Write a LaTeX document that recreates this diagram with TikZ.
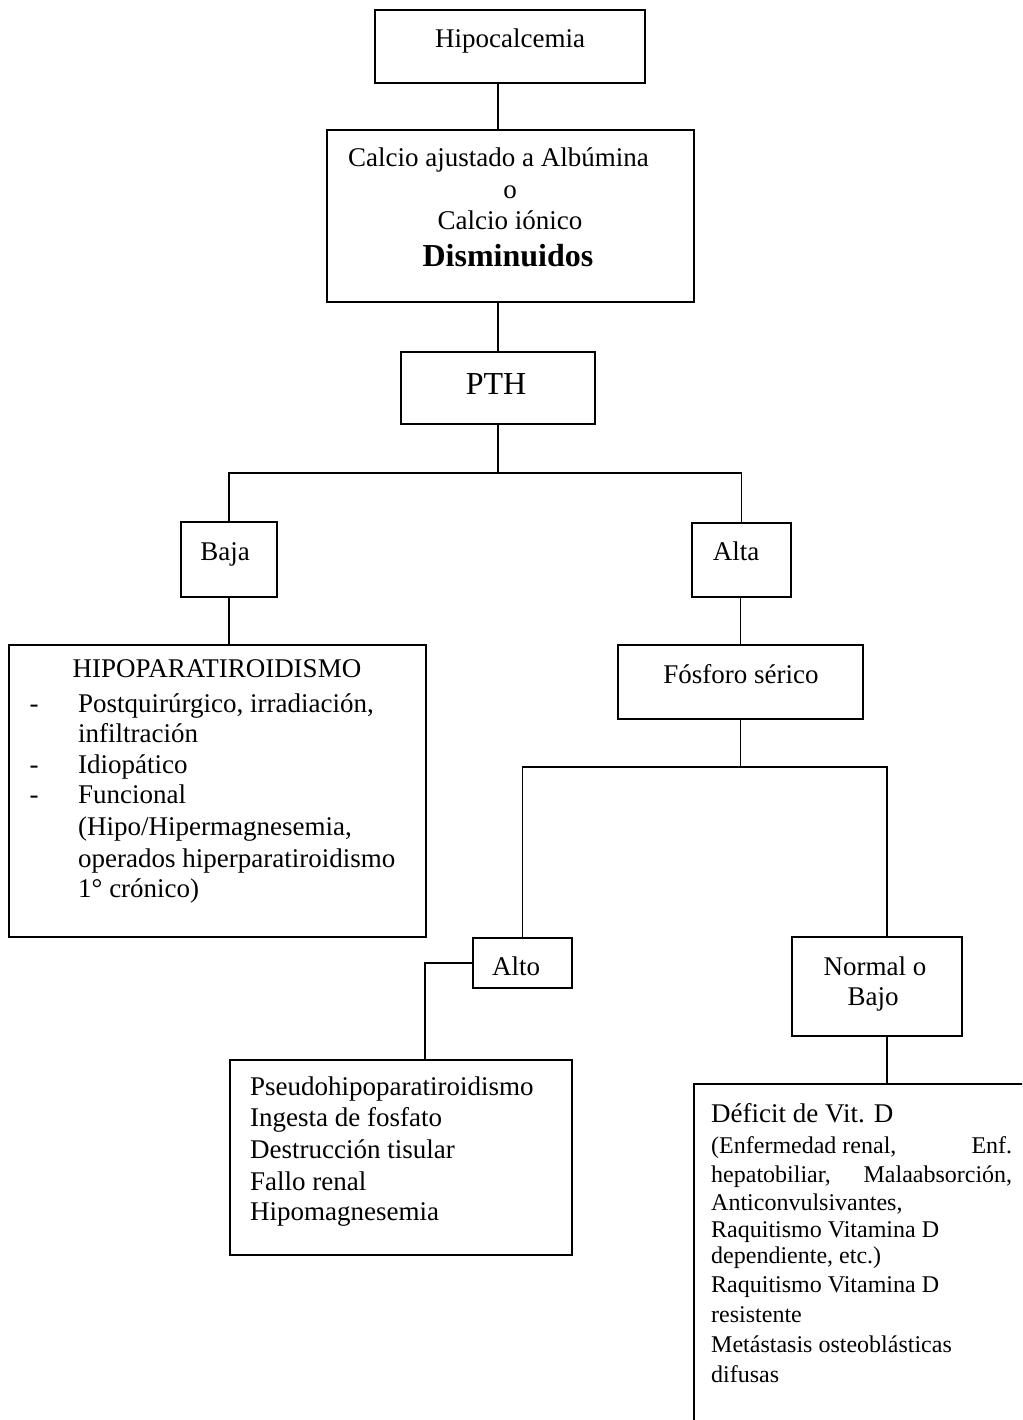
\documentclass[tikz,border=0pt]{standalone}
\usepackage{fontspec}
\setmainfont{Liberation Serif}
\newcommand\fmain{\fontsize{27}{32}\selectfont}
\newcommand\fbig{\fontsize{32}{38}\selectfont}
\newcommand\fsmall{\fontsize{24}{28}\selectfont}
\begin{document}
\begin{tikzpicture}[x=1pt,y=-1pt,
  box/.style={draw, line width=1.6pt, inner sep=0pt},
  txt/.style={anchor=base, inner sep=0pt, font=\fmain},
  txtl/.style={anchor=base west, inner sep=0pt, font=\fmain},
  conn/.style={line width=1.6pt}]
\useasboundingbox (0,0) rectangle (1022,1420);
\clip (0,0) rectangle (1022,1420);
\fill[white] (0,0) rectangle (1022,1420);

% boxes
\node[box, minimum width=270, minimum height=73]  (hipo)     at (510,46.5) {};
\node[box, minimum width=367, minimum height=172] (calcio)   at (510.5,216) {};
\node[box, minimum width=194, minimum height=72]  (pth)      at (498,388) {};
\node[box, minimum width=96,  minimum height=75]  (baja)     at (229,559.5) {};
\node[box, minimum width=99,  minimum height=74]  (alta)     at (741.5,560) {};
\node[box, minimum width=417, minimum height=292] (hipopara) at (217.5,791) {};
\node[box, minimum width=245, minimum height=74]  (fosforo)  at (740.5,682) {};
\node[box, minimum width=99,  minimum height=50]  (alto)     at (522.5,963) {};
\node[box, minimum width=170, minimum height=99]  (normal)   at (877,986.5) {};
\node[box, minimum width=342, minimum height=195] (pseudo)   at (401,1157.5) {};
\node[box, minimum width=406, minimum height=416] (deficit)  at (897,1292) {};

% junction coordinates
\coordinate (j1) at (498,473);
\coordinate (j2) at (740.5,767);
\coordinate (nx) at (887,767);
\coordinate (ax) at (425,963);

% connectors
\draw[conn] (hipo.south -| pth.north) -- (calcio.north -| pth.north);
\draw[conn] (calcio.south -| pth.north) -- (pth.north);
\draw[conn] (pth.south) -- (j1);
\draw[conn] (baja.north) -- (baja.north |- j1) -- (alta.north |- j1) -- (alta.north);
\draw[conn] (baja.south) -- (baja.south |- hipopara.north);
\draw[conn] (alta.south -| fosforo.north) -- (fosforo.north);
\draw[conn] (fosforo.south) -- (j2);
\draw[conn] (alto.north) -- (alto.north |- j2) -- (nx) -- (nx |- normal.north);
\draw[conn] (alto.west) -- (ax) -- (ax |- pseudo.north);
\draw[conn] (nx |- normal.south) -- (nx |- deficit.north);

% texts
\node[txt] (t-hipo) at (510,48) {Hipocalcemia};
\node[txt] (t-c1) at (498.5,167) {Calcio ajustado a Albúmina};
\node[txt] (t-c2) at (510,199) {o};
\node[txt] (t-c3) at (510,230) {Calcio iónico};
\node[txt, font=\fbig\bfseries] (t-c4) at (508,267) {Disminuidos};
\node[txt, font=\fbig] (t-pth) at (496,394) {PTH};
\node[txt] (t-baja) at (225,560) {Baja};
\node[txt] (t-alta) at (736,560) {Alta};
\node[txt] (t-hp) at (217,677) {HIPOPARATIROIDISMO};
\foreach \y in {712,773,803}
  \node[txt] (dash-\y) at (34,\y) {-};
\foreach \t/\y in {{Postquirúrgico, irradiación,}/712, infiltración/742, Idiopático/773,
                   Funcional/803, {(Hipo/Hipermagnesemia,}/835,
                   operados hiperparatiroidismo/867, {1° crónico)}/897}
  \node[txtl] (hp-\y) at (78,\y) {\t};
\node[txt] (t-fos) at (741,683) {Fósforo sérico};
\node[txt] (t-alto) at (516,975) {Alto};
\node[txt] (t-n1) at (875,975) {Normal o};
\node[txt] (t-n2) at (873,1005) {Bajo};
\foreach \t/\y in {Pseudohipoparatiroidismo/1095, Ingesta de fosfato/1126,
                   Destrucción tisular/1158, Fallo renal/1190, Hipomagnesemia/1220}
  \node[txtl] (ps-\y) at (250,\y) {\t};
\node[txtl] (d-1122) at (711,1122) {Déficit de Vit. D};
\node[txtl, font=\fsmall] (d-1153) at (711,1153) {\makebox[301pt][l]{(Enfermedad renal,\hfill Enf.}};
\node[txtl, font=\fsmall] (d-1182) at (711,1182) {\makebox[301pt][l]{hepatobiliar,\hfill Malaabsorción,}};
\foreach \t/\y in {{Anticonvulsivantes,}/1210, Raquitismo Vitamina D/1237,
                   {dependiente, etc.)}/1263, Raquitismo Vitamina D/1292, resistente/1322,
                   Metástasis osteoblásticas/1352, difusas/1382}
  \node[txtl, font=\fsmall] (d-\y) at (711,\y) {\t};
\end{tikzpicture}
\end{document}
